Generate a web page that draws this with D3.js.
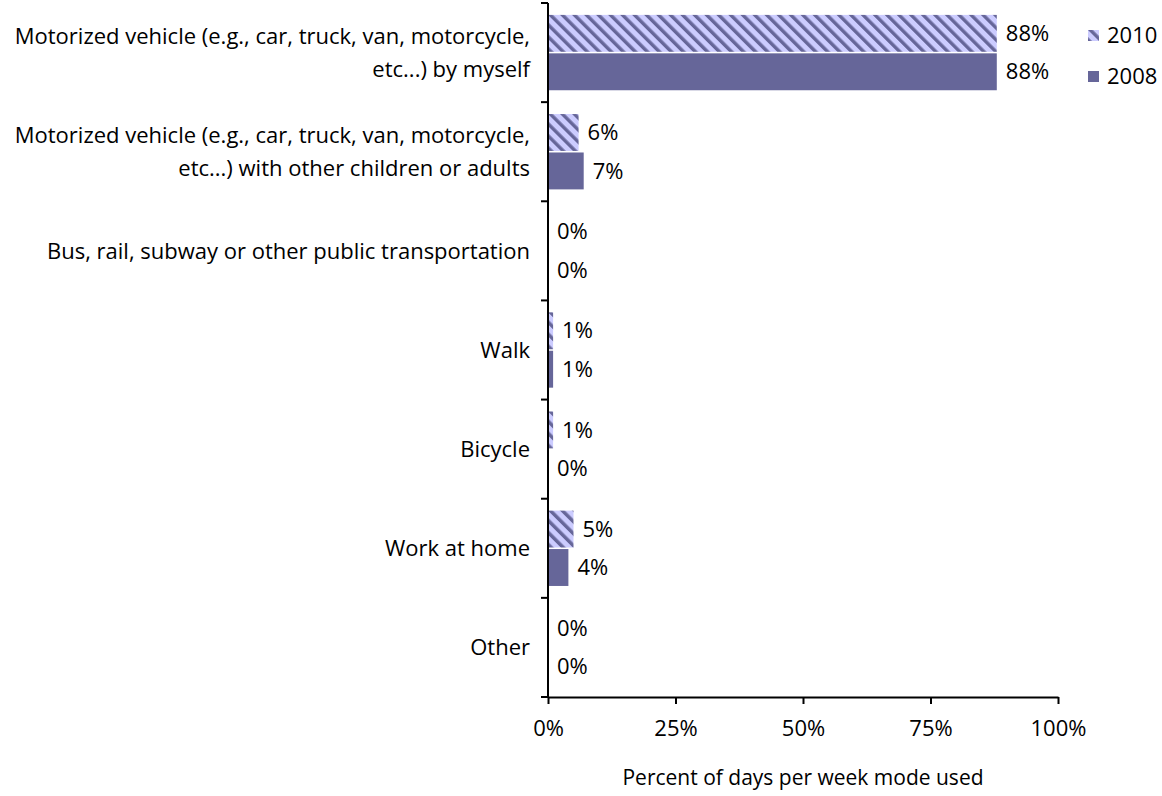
<!DOCTYPE html>
<html>
<head>
<meta charset="utf-8">
<script src="https://cdn.jsdelivr.net/npm/d3@7/dist/d3.min.js"></script>
<style>
  html, body { margin: 0; padding: 0; background: #fff; }
  svg text { font-family: "Open Sans", Lato, sans-serif; fill: #000; }
</style>
</head>
<body>
<svg id="chart" width="1162" height="796"></svg>
<script>
// Commute mode categories (each label split into its display lines)
const categories = [
  ["Motorized vehicle (e.g., car, truck, van, motorcycle,", "etc...) by myself"],
  ["Motorized vehicle (e.g., car, truck, van, motorcycle,", "etc...) with other children or adults"],
  ["Bus, rail, subway or other public transportation"],
  ["Walk"],
  ["Bicycle"],
  ["Work at home"],
  ["Other"]
];
const seriesNames = ["2010", "2008"];
const values2010 = [88, 6, 0, 1, 1, 5, 0];
const values2008 = [88, 7, 0, 1, 0, 4, 0];
const xTicks = [0, 25, 50, 75, 100];
const axisTitle = "Percent of days per week mode used";

const FONT = 22;
const svg = d3.select("#chart");
const margin = { left: 548, top: 3, right: 104, bottom: 99 };
const W = 1162, H = 796;
const plotW = W - margin.left - margin.right;   // 510
const plotH = H - margin.top - margin.bottom;   // 694

const defs = svg.append("defs");
const pat = defs.append("pattern")
  .attr("id", "hatch2010")
  .attr("patternUnits", "userSpaceOnUse")
  .attr("width", 8.5).attr("height", 8.5)
  .attr("patternTransform", "rotate(-45)");
pat.append("rect").attr("width", 8.5).attr("height", 8.5).attr("fill", "#ccccff");
pat.append("rect").attr("x", 0).attr("width", 3.4).attr("height", 8.5).attr("fill", "#666699");

const fills = { "2010": "url(#hatch2010)", "2008": "#666699" };

const g = svg.append("g").attr("transform", `translate(${margin.left},${margin.top})`);

const idx = d3.range(categories.length);
const y = d3.scaleBand().domain(idx).range([0, plotH]).paddingInner(0.24).paddingOuter(0.12);
const ySub = d3.scaleBand().domain(seriesNames).range([0, y.bandwidth()]).paddingInner(0.04);
const x = d3.scaleLinear().domain([0, 100]).range([0, plotW]);

const rows = idx.map(i => ({ i, vals: [
  { key: "2010", v: values2010[i] },
  { key: "2008", v: values2008[i] }
]}));

const groups = g.selectAll("g.cat").data(rows).join("g")
  .attr("class", "cat")
  .attr("transform", d => `translate(0,${y(d.i)})`);

groups.selectAll("rect").data(d => d.vals).join("rect")
  .attr("x", 0)
  .attr("y", d => ySub(d.key))
  .attr("width", d => x(d.v))
  .attr("height", ySub.bandwidth())
  .attr("fill", d => fills[d.key]);

groups.selectAll("text.val").data(d => d.vals).join("text")
  .attr("class", "val")
  .attr("x", d => x(d.v) + 9)
  .attr("y", d => ySub(d.key) + ySub.bandwidth() / 2)
  .attr("dy", "0.35em")
  .attr("font-size", FONT)
  .text(d => d.v + "%");

// Category labels
const step = plotH / categories.length;
g.selectAll("text.cat").data(categories).join("text")
  .attr("class", "cat")
  .attr("text-anchor", "end")
  .attr("font-size", FONT)
  .attr("transform", (d, i) => `translate(-18,${step * i + step / 2})`)
  .each(function (lines) {
    const t = d3.select(this);
    const lh = 33.5;
    lines.forEach((ln, k) => {
      t.append("tspan").attr("x", 0)
        .attr("y", (k - (lines.length - 1) / 2) * lh)
        .attr("dy", "0.35em")
        .text(ln);
    });
  });

// Y axis line with boundary ticks
const yLine = g.append("g").attr("stroke", "#000").attr("stroke-width", 2);
yLine.append("line").attr("x1", 0).attr("x2", 0).attr("y1", 0).attr("y2", plotH);
yLine.selectAll("line.t").data(d3.range(categories.length + 1)).join("line")
  .attr("class", "t")
  .attr("x1", -7).attr("x2", 0)
  .attr("y1", d => d * step).attr("y2", d => d * step);

// X axis
const xAxis = d3.axisBottom(x).tickValues(xTicks).tickFormat(d => d + "%").tickSizeInner(7).tickSizeOuter(0).tickPadding(16);
const xg = g.append("g").attr("transform", `translate(0,${plotH})`).call(xAxis);
xg.select(".domain").attr("stroke", "#000").attr("stroke-width", 2);
xg.selectAll(".tick line").attr("stroke", "#000").attr("stroke-width", 2);
xg.selectAll(".tick text").attr("font-size", FONT).attr("font-family", "'Open Sans', Lato, sans-serif").attr("fill", "#000");

g.append("text")
  .attr("x", plotW / 2).attr("y", plotH + 81)
  .attr("text-anchor", "middle")
  .attr("font-size", 21)
  .attr("dy", "0.35em")
  .text(axisTitle);

// Legend
const legend = svg.append("g").attr("transform", "translate(1088,30)");
seriesNames.forEach((s, k) => {
  const lg = legend.append("g").attr("transform", `translate(0,${k * 41})`);
  lg.append("rect").attr("width", 11).attr("height", 11).attr("fill", fills[s]);
  lg.append("text").attr("x", 19).attr("y", 5.5).attr("dy", "0.35em").attr("font-size", FONT).text(s);
});
</script>
</body>
</html>
